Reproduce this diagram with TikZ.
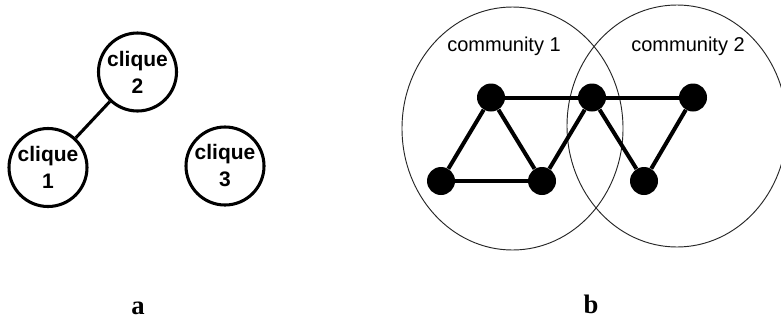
\documentclass[tikz,border=0pt]{standalone}
\usepackage{fontspec}
\setmainfont{Liberation Serif}
\setsansfont{Liberation Sans}
\begin{document}
\begin{tikzpicture}[x=0.75pt,y=-0.75pt,
  clique/.style={circle,draw=black,line width=2.3pt,minimum size=58.5pt,inner sep=0pt,
    align=center,font=\sffamily\bfseries\fontsize{15.75}{20.25}\selectfont},
  link/.style={line width=2.3pt},
  vtx/.style={circle,fill=black,minimum size=21pt,inner sep=0pt},
  edge/.style={line width=3pt},
  comm/.style={draw=black!85,line width=0.7pt},
  commlabel/.style={font=\sffamily\fontsize{15}{18}\selectfont,anchor=base},
  panel/.style={font=\bfseries\fontsize{20}{24}\selectfont,anchor=base}]
\useasboundingbox (0,0) rectangle (781,322);
\clip (0,0) rectangle (781,322);
\fill[white] (0,0) rectangle (781,322);

% panel a
\node[clique] (c2) at (137.5,72) {clique\\2};
\node[clique] (c1) at (48,167.5) {clique\\1};
\node[clique] (c3) at (225,166) {clique\\3};
\draw[link] (c1) -- (c2);

% panel b communities
\draw[comm] (512.5,128.5) ellipse [x radius=110.5, y radius=121.5];
\draw[comm] (677,126) ellipse [x radius=110, y radius=121];
\node[commlabel] (l1) at (504,51) {community 1};
\node[commlabel] (l2) at (688,51) {community 2};

% vertices
\node[vtx] (A) at (491,97.5) {};
\node[vtx] (B) at (592,97.5) {};
\node[vtx] (C) at (693,97.5) {};
\node[vtx] (D) at (441,181) {};
\node[vtx] (E) at (542,181) {};
\node[vtx] (F) at (644,181) {};
\draw[edge] (A) -- (B);
\draw[edge] (B) -- (C);
\draw[edge] (A) -- (D);
\draw[edge] (A) -- (E);
\draw[edge] (D) -- (E);
\draw[edge] (E) -- (B);
\draw[edge] (B) -- (F);
\draw[edge] (F) -- (C);

% panel labels
\node[panel] (la) at (138,314) {a};
\node[panel] (lb) at (591,313) {b};
\end{tikzpicture}
\end{document}
